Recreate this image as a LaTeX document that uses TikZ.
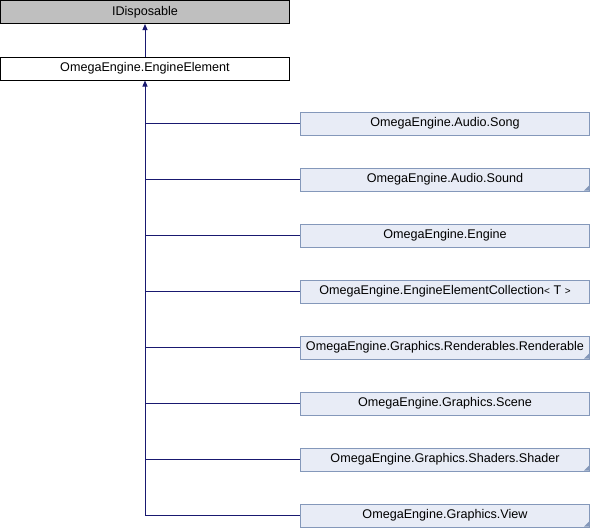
\documentclass[tikz,border=0pt]{standalone}
\usepackage{fontspec}
\setmainfont{Liberation Sans}
\usetikzlibrary{arrows.meta}
\definecolor{edgeblue}{RGB}{25,25,112}
\definecolor{childfill}{RGB}{232,236,246}
\definecolor{childdraw}{RGB}{132,152,186}
\definecolor{basegray}{RGB}{191,191,191}
\begin{document}
\begin{tikzpicture}[x=1pt,y=-1pt,
  box/.style={draw, line width=1pt, minimum width=289pt, minimum height=23pt, inner sep=0pt, anchor=center, font=\fontsize{12.6}{14}\selectfont},
  basebox/.style={box, fill=basegray, draw=black},
  mainbox/.style={box, fill=white, draw=black},
  childbox/.style={box, fill=childfill, draw=childdraw},
  corner/.style={fill=childdraw},
  inh/.style={draw=edgeblue, line width=1pt, -{Triangle[length=6pt,width=5pt]}},
  link/.style={draw=edgeblue, line width=1pt}
]
\useasboundingbox (0,0) rectangle (590,528);
\node[basebox] (idisp) at (145,12) {IDisposable};
\node[mainbox] (elem) at (145,68.5) {OmegaEngine.EngineElement};
\node[childbox] (song) at (445,123.5) {OmegaEngine.Audio.Song};
\node[childbox] (sound) at (445,179.5) {OmegaEngine.Audio.Sound};
\node[childbox] (engine) at (445,235.5) {OmegaEngine.Engine};
\node[childbox] (coll) at (445,291.5) {OmegaEngine.EngineElementCollection{\fontsize{10}{12}\selectfont<} T {\fontsize{10}{12}\selectfont>}};
\node[childbox] (rend) at (445,347.5) {OmegaEngine.Graphics.Renderables.Renderable};
\node[childbox] (scene) at (445,403.5) {OmegaEngine.Graphics.Scene};
\node[childbox] (shader) at (445,459.5) {OmegaEngine.Graphics.Shaders.Shader};
\node[childbox] (view) at (445,515.5) {OmegaEngine.Graphics.View};
\foreach \c in {sound,rend,shader,view}{
  \fill[corner] (\c.south east) ++(-1,-1) -- ++(-5,0) -- ++(5,-5) -- cycle;
}
\path[inh] (elem.north) -- (idisp.south);
\coordinate (trunk) at (elem.south |- view.west);
\path[inh] (trunk) -- (elem.south);
\foreach \c in {song,sound,engine,coll,rend,scene,shader,view}{
  \path[link] (elem.south |- \c.west) -- (\c.west);
}
\end{tikzpicture}
\end{document}
